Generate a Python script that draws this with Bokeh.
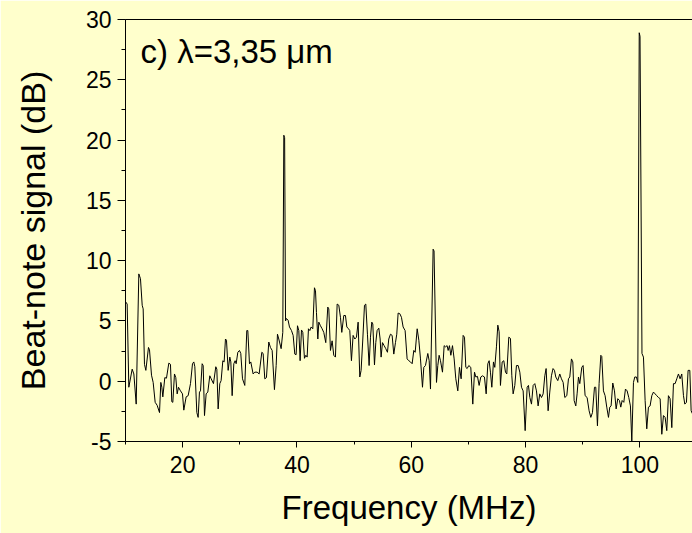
from bokeh.plotting import figure
from bokeh.models import (Range1d, SingleIntervalTicker, LinearAxis, FixedTicker,
                          Label, CustomJSTickFormatter)
from bokeh.embed import file_html
from bokeh.resources import INLINE

# Frequency (MHz) and beat-note signal (dB)
freq = [
    10.00, 10.29, 10.58, 11.17, 11.46, 11.87, 12.33, 12.62, 12.92, 13.09,
    13.32, 13.56, 14.02, 14.20, 14.55, 14.84, 15.19, 15.54, 15.95, 16.18,
    16.36, 16.53, 16.88, 17.17, 17.58, 17.87, 18.10, 18.28, 18.57, 18.80,
    19.04, 19.27, 19.62, 19.97, 20.20, 20.61, 20.96, 21.37, 21.72, 21.95,
    22.13, 22.48, 22.71, 22.94, 23.12, 23.41, 23.59, 23.82, 24.11, 24.40,
    24.75, 24.99, 25.39, 25.80, 25.98, 26.21, 26.50, 26.73, 27.03, 27.26,
    27.49, 27.67, 27.96, 28.25, 28.43, 28.66, 28.95, 29.18, 29.36, 29.65,
    29.94, 30.17, 30.47, 30.87, 31.22, 31.40, 31.69, 31.92, 32.33, 32.62,
    33.03, 33.38, 33.85, 34.08, 34.37, 34.66, 35.07,
    35.36, 35.66, 36.06, 36.36, 36.59, 36.82, 37.23, 37.52, 37.70, 37.84,
    38.00, 38.16, 38.45, 38.69, 39.04, 39.33, 39.62, 39.85, 40.09, 40.32,
    40.55, 40.79, 41.02, 41.31, 41.55, 41.78, 42.01, 42.25, 42.48, 42.77,
    43.06, 43.24, 43.41, 43.65, 43.82, 44.11, 44.40, 44.69, 45.04, 45.39,
    45.57, 45.86, 46.15, 46.44, 46.73, 47.03, 47.32, 47.61, 47.84, 48.19,
    48.48, 48.72, 49.01, 49.24, 49.53, 49.82, 50.12, 50.41, 50.70, 50.99,
    51.22, 51.52, 51.81, 52.04, 52.33, 52.62, 52.86, 53.09, 53.27, 53.56,
    53.79, 54.02, 54.32, 54.55, 54.72, 54.96, 55.25, 55.54, 55.83, 56.06,
    56.36, 56.65, 56.94, 57.23, 57.46, 57.70, 57.99, 58.28, 58.57, 58.92,
    59.27, 59.56,
    59.86, 60.15, 60.44, 60.68, 61.03, 61.32, 61.61, 61.96, 62.19, 62.48,
    62.89, 63.13, 63.36, 63.82, 63.98, 64.41, 64.64, 64.87, 65.11, 65.46,
    65.75, 65.98, 66.27, 66.45, 66.68, 66.92, 67.21, 67.50, 67.79, 68.14,
    68.43, 68.72, 69.07, 69.31, 69.54, 69.77, 70.06, 70.41, 70.76, 71.06,
    71.29, 71.58, 71.87, 72.16, 72.45, 72.80, 73.10, 73.39, 73.62, 73.85,
    74.09, 74.38, 74.61, 74.90, 75.14, 75.37, 75.60, 75.90, 76.19, 76.48,
    76.71, 77.06, 77.35, 77.59, 77.82, 78.11, 78.40, 78.70, 78.99, 79.28,
    79.57, 79.92, 80.27, 80.50, 80.74, 81.03, 81.32, 81.61, 81.90, 82.19,
    82.48, 82.78, 83.07, 83.36, 83.59, 83.94, 84.23, 84.52,
    84.80, 85.05, 85.28, 85.63, 85.98, 86.27, 86.57, 86.86, 87.21, 87.50,
    87.73, 88.02, 88.26, 88.49, 88.78, 89.01, 89.25, 89.48, 89.83, 90.06,
    90.41, 90.76, 91.11, 91.41, 91.70, 92.05, 92.28, 92.57, 92.86, 93.16,
    93.33, 93.62, 93.91, 94.20, 94.50, 94.73, 94.96, 95.25, 95.55, 95.84,
    96.13, 96.42, 96.65, 96.89, 97.18, 97.47, 97.76, 98.05, 98.34, 98.58,
    98.87, 99.10, 99.39, 99.63, 99.88, 100.02, 100.36, 100.62, 100.91, 101.20,
    101.49, 101.78, 102.08, 102.37, 102.66, 102.95, 103.24, 103.54, 103.83, 104.12,
    104.41, 104.70, 104.99, 105.28, 105.58, 105.87, 106.16, 106.45, 106.74, 107.03,
    107.32, 107.62, 107.85, 108.14, 108.43, 108.73, 108.96, 109.19,
]
signal_db = [
    6.6, 6.4, -0.5, 1.0, 0.6, -1.9, 8.9, 8.5, 6.3, 6.0,
    1.4, 0.9, 2.8, 2.6, 0.5, -0.1, -1.75, -2.0, -2.6, -0.1,
    -0.5, -1.3, 0.3, 0.25, 1.5, 1.4, -1.7, -1.75, 0.6, 0.3,
    -1.05, -0.5, -0.8, -1.05, -2.4, -1.3, -1.2, -0.2, 1.45, 1.6,
    1.2, -2.6, -3.0, -0.9, -0.8, 1.45, 1.3, -2.85, -1.05, -0.9,
    0.45, 0.2, -0.2, 1.2, 1.0, -2.3, -0.2, 0.05, 1.7, 1.6,
    3.5, 3.4, 0.9, 2.0, 1.6, -1.2, 1.45, 1.7, 1.45, 2.4,
    2.55, 2.3, 0.2, -0.35, 4.2, 4.2, 1.45, 1.6, 0.6, 0.75,
    0.75, 0.6, 2.4, 2.3, 0.2, 0.3, 3.25,
    2.8, 2.55, -0.7, 1.3, 3.9, 3.5, 2.7, 4.05, 20.4, 20.2,
    5.0, 5.2, 5.05, 4.5, 4.2, 3.8, 2.25, 2.2, 4.6, 4.2,
    1.7, 4.25, 4.05, 1.9, 2.15, 2.0, 4.35, 4.2, 4.5, 4.35,
    7.75, 7.5, 5.7, 3.5, 4.9, 4.6, 4.35, 4.05, 3.2, 6.15,
    6.0, 2.55, 3.35, 2.15, 2.0, 6.4, 6.3, 5.3, 4.05, 5.45,
    5.45, 4.5, 4.35, 4.2, 1.7, 3.8, 3.5, 3.65, 4.9, 0.35,
    0.9, 3.5, 6.3, 6.4, 3.9, 1.3, 3.65, 4.9, 4.75, 1.35,
    3.2, 4.2, 4.4, 3.5, 2.0, 3.2, 2.95, 2.7, 2.4, 3.5,
    3.9, 3.8, 2.25, 3.2, 3.9, 5.65, 5.6, 5.3, 4.5, 4.2,
    1.85, 1.7,
    1.6, 1.45, 2.55, 2.4, 4.35, 3.4, 1.85, -0.5, 1.15, 1.3,
    2.3, 1.7, -0.65, 10.95, 10.8, -0.1, 1.3, 2.15, 1.7, 0.75,
    2.95, 2.85, 2.95, 2.55, 2.95, 2.15, 2.95, 1.85, 0.2, -0.8,
    1.15, 0.2, 3.8, 3.65, 1.15, 1.05, 1.3, 1.15, -1.9, 0.75,
    0.35, 0.4, -0.35, 0.35, 0.45, 0.35, -1.05, 1.45, 1.7, 0.75,
    -0.5, 1.6, 1.15, 2.85, 4.65, 4.1, -0.35, 1.6, 1.7, 0.75,
    0.6, 3.65, 3.55, 0.45, -1.05, -0.35, 1.3, 1.3, 0.75, -0.5,
    -0.8, -4.1, -0.5, -0.35, -1.35, -1.9, -0.35, -0.2, -0.8, -2.05,
    -1.05, -1.35, -1.05, 0.45, 1.05, -2.45, -0.9, 0.45,
    1.05, 0.9, 0.35, 0.05, 0.6, 0.2, -0.1, -1.35, -1.2, 0.2,
    0.35, 1.85, 1.6, -1.6, -2.05, -1.05, 0.35, -0.2, 1.15, 1.3,
    -1.2, -1.35, -2.45, -3.0, -2.6, -0.5, -0.5, -3.7, -0.2, 2.15,
    2.05, -0.8, -1.2, -2.15, -3.0, -2.15, -2.05, -0.15, -0.8, -2.3,
    -1.45, -1.6, -2.15, -1.6, -1.75, -0.65, -0.8, -1.35, -2.05, -5.0,
    -0.1, 0.35, 0.35, -0.1, 28.9, 28.6, 2.3, 2.0, -1.6, -3.95,
    -2.15, -2.05, -1.2, -0.9, -1.05, -1.2, -1.35, -1.45, -4.4, -2.85,
    -3.0, -4.1, -1.2, -1.45, -3.85, -0.2, -0.2, 0.2, 0.6, 0.2,
    0.6, -1.2, -1.9, -1.75, 0.9, 0.9, -2.45, -2.7,
]

x_start, x_end = 10, 109.2
y_start, y_end = -5, 30
x_major_step, y_major_step = 20, 5
title_text = "c) \u03bb=3,35 \u03bcm"
title_x, title_y = 12.62, 27.35
x_label = "Frequency (MHz)"
y_label = "Beat-note signal (dB)"

BG = "#FFFFCC"
FONT = "Liberation Sans"

p = figure(width=692, height=533, output_backend="svg", toolbar_location=None,
           x_range=Range1d(x_start, x_end), y_range=Range1d(y_start, y_end),
           min_border_left=125, min_border_right=0, min_border_top=19,
           min_border_bottom=92)
p.background_fill_color = BG
p.border_fill_color = BG
p.outline_line_color = None
p.grid.visible = False

p.line(freq, signal_db, line_color="black", line_width=1)

p.xaxis.ticker = SingleIntervalTicker(interval=x_major_step, num_minor_ticks=2)
p.yaxis.ticker = SingleIntervalTicker(interval=y_major_step, num_minor_ticks=2)
plain = CustomJSTickFormatter(code="return tick.toString();")

for ax in (p.xaxis[0], p.yaxis[0]):
    ax.formatter = plain
    ax.axis_line_color = "black"
    ax.axis_line_width = 1
    ax.major_tick_line_color = "black"
    ax.minor_tick_line_color = "black"
    ax.major_tick_in = 0
    ax.minor_tick_in = 0
    ax.major_label_text_font = FONT
    ax.major_label_text_font_size = "23px"
    ax.major_label_text_color = "black"
    ax.axis_label_text_font = FONT
    ax.axis_label_text_font_style = "normal"
    ax.axis_label_text_color = "black"

p.xaxis.axis_label_text_font_size = "33px"
p.yaxis.axis_label_text_font_size = "34px"
p.xaxis.major_tick_out = 6
p.xaxis.minor_tick_out = 3
p.yaxis.major_tick_out = 8
p.yaxis.minor_tick_out = 4
p.xaxis.major_label_standoff = 8
p.yaxis.major_label_standoff = 6
p.xaxis.axis_label = x_label
p.yaxis.axis_label = y_label
p.xaxis.axis_label_standoff = 13
p.yaxis.axis_label_standoff = 31

top_axis = LinearAxis(ticker=FixedTicker(ticks=[]), axis_line_color="black",
                      major_tick_line_color=None, minor_tick_line_color=None,
                      major_label_text_font_size="0px")
p.add_layout(top_axis, "above")

p.add_layout(Label(x=title_x, y=title_y, text=title_text, text_font=FONT,
                   text_font_size="33px", text_color="black",
                   text_baseline="alphabetic"))

open("out.html", "w").write(file_html(p, INLINE))
